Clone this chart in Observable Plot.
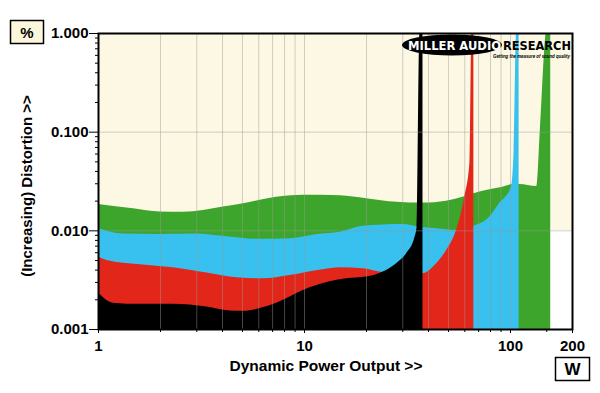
<!DOCTYPE html>
<html>
<head>
<meta charset="utf-8">
<script src="https://cdn.jsdelivr.net/npm/d3@7"></script>
<script src="https://cdn.jsdelivr.net/npm/@observablehq/plot@0.6"></script>
<style>
  html, body { margin: 0; padding: 0; background: #ffffff; }
  #chart { width: 600px; height: 393px; }
</style>
</head>
<body>
<div id="chart"></div>
<script>
// Dynamic power output (W) vs distortion (%) — four load traces
const green = [[1,0.0185],[1.48,0.0167],[1.99,0.0155],[2.58,0.0154],[4.04,0.0174],[5.05,0.0188],[7.06,0.0216],[9.87,0.0229],[14.9,0.0227],[20,0.0212],[28,0.0195],[37.6,0.0191],[48.9,0.0200],[58.7,0.0219],[66.4,0.0238],[79.4,0.0261],[91.8,0.0277],[102.6,0.0294],[110.9,0.0295],[134.1,0.0282],[139.8,0.11],[148.9,1.0],[156.8,1.5]];
const blue = [[1,0.0105],[1.32,0.0093],[1.92,0.0092],[3.0,0.0093],[4.04,0.0088],[5.87,0.0082],[8.5,0.0083],[11.5,0.0092],[14.9,0.0097],[19.3,0.0111],[30,0.0116],[36.3,0.0109],[43.8,0.0105],[54.7,0.0101],[66.4,0.0111],[79.4,0.0138],[88.7,0.0190],[101.1,0.0277],[104.1,0.065],[106.9,1.0],[110.1,1.5]];
const red = [[1,0.00541],[1.10,0.00501],[1.59,0.00454],[2.31,0.00423],[3.36,0.00373],[4.87,0.00332],[6.31,0.00327],[8.5,0.00353],[12.3,0.00404],[14.9,0.00423],[19.3,0.00413],[23.2,0.00382],[30,0.0036],[37.6,0.00367],[43.8,0.00464],[48.9,0.0063],[54.7,0.0101],[60,0.0219],[63.5,0.0482],[64.9,1.0],[66.4,1.5]];
const black = [[1,0.00234],[1.18,0.00185],[1.59,0.0018],[2.31,0.0018],[3.36,0.00169],[4.35,0.00154],[5.05,0.00153],[6.08,0.00163],[7.33,0.00185],[9.87,0.00249],[13.3,0.00305],[16,0.00327],[20,0.0034],[24.1,0.00382],[28,0.00464],[31.3,0.00586],[34.4,0.0086],[35.2,0.0109],[36.3,1.0],[37.6,1.5]];

const seriesColors = {green: "#3ea52c", blue: "#38c1ee", red: "#e3261a", black: "#000000"};

const xTicks = [1, 10, 100, 200];
const xTickLabels = ["1", "10", "100", "200"];
const yTicks = [0.001, 0.01, 0.1, 1];
const yTickLabels = ["0.001", "0.010", "0.100", "1.000"];
const xGrid = [2,3,4,5,6,7,8,9,10,20,30,40,50,60,70,80,90,100];
const yGrid = [0.01, 0.1];
const xMinor = [2,3,4,5,6,7,8,9,20,30,40,50,60,70,80,90,150];
const yMinor = [0.002,0.003,0.004,0.005,0.006,0.007,0.008,0.009,0.02,0.03,0.04,0.05,0.06,0.07,0.08,0.09,0.2,0.3,0.4,0.5,0.6,0.7,0.8,0.9];
// cream background regions (lower-right corner past the last trace is white)
const creamRegions = [
  {x1: 1, x2: 200, y1: 0.01, y2: 1},
  {x1: 1, x2: 156.8, y1: 0.001, y2: 0.01}
];

const xLabelMap = new Map(xTicks.map((t, i) => [t, xTickLabels[i]]));
const yLabelMap = new Map(yTicks.map((t, i) => [t, yTickLabels[i]]));

const FONT = "'Liberation Sans', Arial, Helvetica, sans-serif";
const LOGO_FONT = "'DejaVu Sans', 'Liberation Sans', sans-serif";
const floor = 0.001;

function area(data, color) {
  return Plot.areaY(data, {
    x: d => d[0], y1: () => floor, y2: d => d[1],
    fill: color, curve: "monotone-x", clip: true
  });
}

const chart = Plot.plot({
  width: 600,
  height: 393,
  marginLeft: 98,
  marginRight: 28,
  marginTop: 33,
  marginBottom: 64,
  style: {fontFamily: FONT, background: "#ffffff", color: "#000"},
  x: {type: "log", domain: [1, 200]},
  y: {type: "log", domain: [0.001, 1]},
  marks: [
    Plot.rect(creamRegions, {x1: "x1", x2: "x2", y1: "y1", y2: "y2", fill: "#fcf8e4"}),
    area(green, seriesColors.green),
    area(blue, seriesColors.blue),
    area(red, seriesColors.red),
    area(black, seriesColors.black),
    Plot.ruleX(xGrid, {stroke: "#9a9a9a", strokeOpacity: 0.45, strokeWidth: 1}),
    Plot.ruleY(yGrid, {stroke: "#9a9a9a", strokeOpacity: 0.45, strokeWidth: 1}),
    Plot.axisY(yTicks, {tickFormat: d => yLabelMap.get(d), tickSize: 9, tickPadding: 1, fontSize: 15, fontWeight: "bold", label: null}),
    Plot.axisY(yMinor, {tickFormat: () => "", tickSize: 3, label: null}),
    Plot.axisX(xTicks, {tickFormat: d => xLabelMap.get(d), tickSize: 4, tickPadding: 7, fontSize: 15, fontWeight: "bold", label: null}),
    Plot.axisX(xMinor, {tickFormat: () => "", tickSize: 3, label: null}),
    Plot.frame({stroke: "#000", strokeWidth: 2})
  ]
});

document.getElementById("chart").appendChild(chart);

// annotations: titles, unit boxes, logo
const svg = d3.select(chart);
svg.append("text")
  .attr("x", 326).attr("y", 371)
  .attr("text-anchor", "middle")
  .attr("font-family", FONT).attr("font-weight", "bold").attr("font-size", 15.5)
  .attr("fill", "#000")
  .text("Dynamic Power Output >>");
svg.append("text")
  .attr("transform", "translate(32,186) rotate(-90)")
  .attr("text-anchor", "middle")
  .attr("font-family", FONT).attr("font-weight", "bold").attr("font-size", 15)
  .attr("fill", "#000")
  .text("(Increasing) Distortion >>");

// % box
svg.append("rect").attr("x", 10.5).attr("y", 20.5).attr("width", 33).attr("height", 23)
  .attr("fill", "#fcf6dc").attr("stroke", "#000").attr("stroke-width", 1.5);
svg.append("text").attr("x", 27).attr("y", 37.5).attr("text-anchor", "middle")
  .attr("font-family", FONT).attr("font-weight", "bold").attr("font-size", 15).attr("fill", "#000")
  .text("%");
// W box
svg.append("rect").attr("x", 555.5).attr("y", 357.5).attr("width", 34).attr("height", 23)
  .attr("fill", "#ffffff").attr("stroke", "#000").attr("stroke-width", 1.5);
svg.append("text").attr("x", 572.5).attr("y", 375).attr("text-anchor", "middle")
  .attr("font-family", FONT).attr("font-weight", "bold").attr("font-size", 17).attr("fill", "#000")
  .text("W");

// logo
const logo = svg.append("g").attr("text-anchor", "start");
logo.append("ellipse").attr("cx", 452).attr("cy", 45).attr("rx", 50).attr("ry", 10.5).attr("fill", "#000");
logo.append("text").attr("x", 408).attr("y", 49.5).attr("text-anchor", "start")
  .attr("font-family", LOGO_FONT).attr("font-weight", "bold").attr("font-size", 12)
  .attr("fill", "#fff").attr("textLength", 93).attr("lengthAdjust", "spacingAndGlyphs")
  .text("MILLER AUDIO");
logo.append("text").attr("x", 503).attr("y", 50).attr("text-anchor", "start")
  .attr("font-family", LOGO_FONT).attr("font-weight", "bold").attr("font-size", 12)
  .attr("fill", "#000").attr("textLength", 68).attr("lengthAdjust", "spacingAndGlyphs")
  .text("RESEARCH");
logo.append("text").attr("x", 493).attr("y", 57.5).attr("text-anchor", "start")
  .attr("font-family", FONT).attr("font-weight", "bold").attr("font-style", "italic").attr("font-size", 5)
  .attr("fill", "#000").attr("textLength", 77).attr("lengthAdjust", "spacingAndGlyphs")
  .text("Getting the measure of sound quality");
</script>
</body>
</html>
